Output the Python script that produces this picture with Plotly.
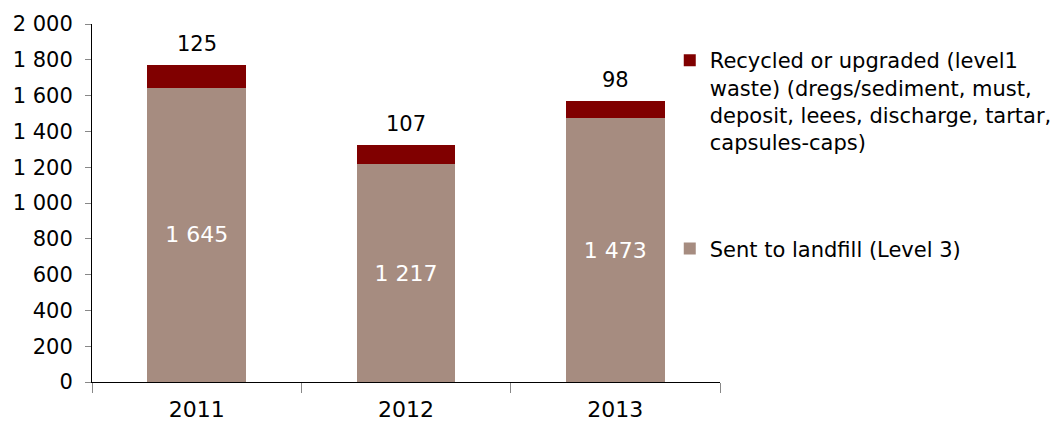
import plotly.graph_objects as go

years = ["2011", "2012", "2013"]
landfill = [1645, 1217, 1473]
recycled = [125, 107, 98]
totals = [a + b for a, b in zip(landfill, recycled)]
y_ticks = [0, 200, 400, 600, 800, 1000, 1200, 1400, 1600, 1800, 2000]

name_recycled = ("Recycled or upgraded (level1<br>waste) (dregs/sediment, must,<br>"
                 "deposit, leees, discharge, tartar,<br>capsules-caps)")
name_landfill = "Sent to landfill (Level 3)"

FONT = "DejaVu Sans, Verdana, sans-serif"

fig = go.Figure()
fig.add_trace(go.Bar(
    x=years, y=landfill, name=name_landfill, legendgroup="b", legendrank=2,
    marker=dict(color="#A68C80", line=dict(width=0)),
    text=landfill, texttemplate="%{y:,}", textposition="inside",
    insidetextanchor="middle", textangle=0,
    textfont=dict(color="white", size=22, family=FONT),
))
fig.add_trace(go.Bar(
    x=years, y=recycled, name=name_recycled, legendgroup="a", legendrank=1,
    marker=dict(color="#800000", line=dict(width=0)),
    textposition="none",
))
for i, (t, r) in enumerate(zip(totals, recycled)):
    fig.add_annotation(x=i, y=t, xref="x", yref="y", text=f"{r}", showarrow=False,
                       yanchor="bottom", yshift=7,
                       font=dict(size=21, color="black", family=FONT))

fig.update_layout(
    width=1061, height=423,
    margin=dict(l=84, r=349, t=16, b=49, autoexpand=False),
    barmode="stack", bargap=0.53,
    separators=". ",
    plot_bgcolor="white", paper_bgcolor="white",
    font=dict(family=FONT, size=21, color="black"),
    showlegend=True,
    legend=dict(x=0.92, xanchor="left", y=0.955, yanchor="top", valign="top",
                traceorder="grouped", tracegroupgap=76,
                font=dict(size=21, family=FONT), bgcolor="rgba(0,0,0,0)"),
)
fig.update_yaxes(range=[0, 2000], tickvals=y_ticks, tickformat=",",
                 showgrid=False, zeroline=False, showline=True, linecolor="black",
                 linewidth=1, ticks="outside", ticklen=6, tickcolor="#888",
                 ticklabelstandoff=8,
                 tickfont=dict(size=21, family=FONT), automargin=False)
fig.update_xaxes(type="category", categoryorder="array", categoryarray=years,
                 range=[-0.5, len(years) - 0.5],
                 showgrid=False, showline=True, linecolor="black", linewidth=1,
                 ticks="outside", ticklen=10, tickcolor="#888", tickson="boundaries",
                 ticklabelstandoff=8,
                 tickfont=dict(size=22, family=FONT), tickangle=0, automargin=False)

fig.write_html("out.html")
